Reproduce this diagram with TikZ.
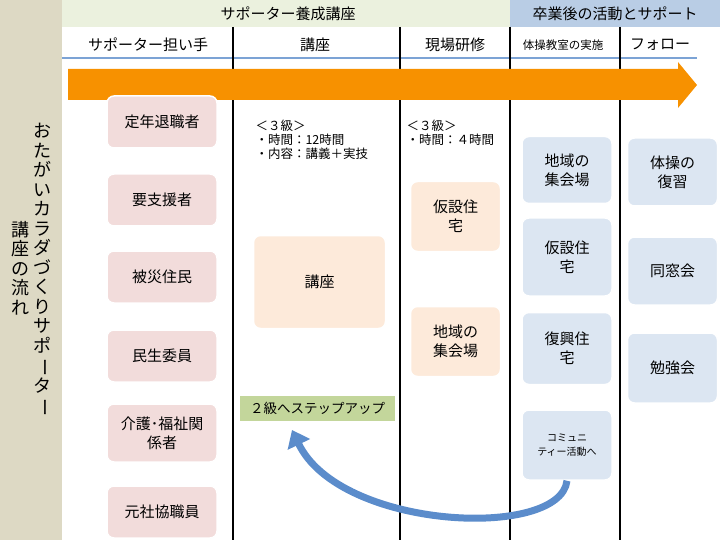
\documentclass[tikz,border=0pt]{standalone}
\usepackage{fontspec}
\setmainfont{Noto Sans CJK JP}
\usetikzlibrary{arrows.meta}
\definecolor{sideband}{HTML}{DDD9C4}
\definecolor{headgreen}{HTML}{EBF1DE}
\definecolor{headblue}{HTML}{B9CDE5}
\definecolor{pinkbox}{HTML}{F2DCDB}
\definecolor{peachbox}{HTML}{FDEADA}
\definecolor{bluebox}{HTML}{DCE6F2}
\definecolor{stepgreen}{HTML}{C3D69B}
\definecolor{runorange}{HTML}{F79100}
\definecolor{curveblue}{HTML}{5B8CCB}
\newcommand{\vbar}{\rotatebox[origin=c]{-90}{ー}}
\begin{document}
\begin{tikzpicture}[x=1pt,y=-1pt,
    card/.style={rounded corners=7pt, draw=white, line width=1.5pt, align=center, font=\fontsize{15}{19}\selectfont},
    tier/.style={card, fill=pinkbox, minimum width=110pt, minimum height=52pt},
    after/.style={card, fill=bluebox, minimum width=90pt},
    head/.style={font=\fontsize{15}{17}\selectfont},
    note/.style={align=left, anchor=north west, font=\fontsize{12.5}{14}\selectfont}]
    \useasboundingbox (0,0) rectangle (720,540);
    %% bands
    \fill[sideband] (0,0) rectangle (62,540);
    \fill[headgreen] (62,0) rectangle (510,27);
    \fill[headblue] (510,0) rectangle (720,27);
    \node[head] (trainhead) at (288,14) {サポーター養成講座};
    \node[head] (posthead) at (615,14) {卒業後の活動とサポート};
    \node[align=center, font=\fontsize{18}{19.5}\selectfont] (title1) at (42,270)
      {お\\た\\が\\い\\カ\\ラ\\ダ\\づ\\く\\り\\サ\\ポ\\\vbar\\タ\\\vbar};
    \node[align=center, font=\fontsize{18}{19.5}\selectfont] (title2) at (20,268)
      {講\\座\\の\\流\\れ};
    %% columns
    \node[head] (colA) at (148,45) {サポーター担い手};
    \node[head] (colB) at (315,45) {講座};
    \node[head] (colC) at (455,45) {現場研修};
    \node[font=\fontsize{11.5}{13}\selectfont] (colD) at (563,45) {体操教室の実施};
    \node[head] (colE) at (660,45) {フォロー};
    \draw[curveblue!80, line width=1.2pt] (62,58) -- (697,58);
    \foreach \x in {233,400,510,620}
      \draw[line width=1.3pt] (\x,27) -- (\x,540);
    \fill[runorange] (68,69) -- (678,69) -- (678,62) -- (697,85) -- (678,108) -- (678,100) -- (68,100) -- cycle;
    %% supporters
    \foreach \n/\y/\t in {t1/122/定年退職者, t2/200/要支援者, t3/277/被災住民, t4/356/民生委員, t6/512/元社協職員}
      \node[tier] (\n) at (162,\y) {\t};
    \node[tier, minimum height=58pt] (t5) at (162,433) {介護･福祉関\\係者};
    %% course
    \node[note] (grade3a) at (252,116) {＜３級＞\\・時間：12時間\\・内容：講義＋実技};
    \node[note] (grade3b) at (403,116) {＜３級＞\\・時間：４時間};
    \node[card, fill=peachbox, minimum width=132pt, minimum height=93pt] (course) at (319.5,282) {講座};
    \node[card, fill=peachbox, minimum width=90pt, minimum height=70pt] (site1) at (455.5,216.5) {仮設住\\宅};
    \node[card, fill=peachbox, minimum width=90pt, minimum height=70pt] (site2) at (455.5,341.5) {地域の\\集会場};
    \node[fill=stepgreen, minimum width=155pt, minimum height=25pt, font=\fontsize{13.5}{15}\selectfont] (step) at (317.5,408.5) {２級へステップアップ};
    %% after graduation
    \node[after, minimum height=67pt] (d1) at (567,170) {地域の\\集会場};
    \node[after, minimum height=78pt] (d2) at (567,257) {仮設住\\宅};
    \node[after, minimum height=72pt] (d3) at (567,348.5) {復興住\\宅};
    \node[after, minimum height=70pt, font=\fontsize{10}{14}\selectfont] (d4) at (567,445) {コミュニ\\ティー活動へ};
    \node[after, minimum height=68pt] (f1) at (672.5,172) {体操の\\復習};
    \node[after, minimum height=68pt] (f2) at (672.5,271) {同窓会};
    \node[after, minimum height=70pt] (f3) at (672.5,368) {勉強会};
    %% back loop
    \coordinate (loopend) at (292,430);
    \draw[curveblue, line width=7pt, -{Triangle[length=16pt,width=24pt]}]
      (d4.south) .. controls (560,540) and (340,530) .. (loopend);
\end{tikzpicture}
\end{document}
